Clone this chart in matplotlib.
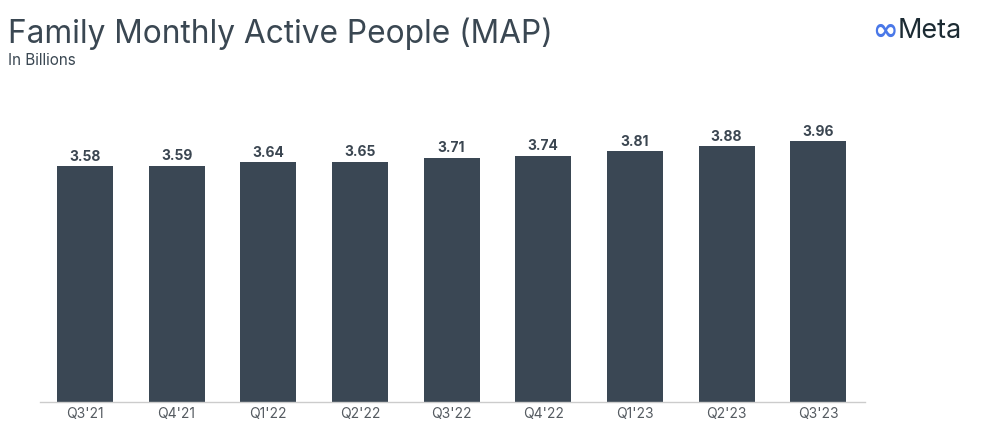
import numpy as np
import matplotlib
matplotlib.use('Agg')
import matplotlib.pyplot as plt

# quarterly family monthly active people, in billions
quarters = ["Q3'21", "Q4'21", "Q1'22", "Q2'22", "Q3'22", "Q4'22", "Q1'23", "Q2'23", "Q3'23"]
map_values = [3.58, 3.59, 3.64, 3.65, 3.71, 3.74, 3.81, 3.88, 3.96]

bar_color = '#3a4754'
text_color = '#3b4651'

plt.rcParams['font.family'] = ['Inter', 'DejaVu Sans']

fig = plt.figure(figsize=(10, 4.31), dpi=100)
ax = fig.add_axes([0.04, 0.065, 0.825, 0.703])

x = np.arange(len(quarters))
bars = ax.bar(x, map_values, width=0.61, color=bar_color)

for xi, v in zip(x, map_values):
    ax.text(xi, v + 0.05, f'{v:.2f}', ha='center', va='bottom',
            fontsize=10, fontweight='bold', color=text_color)

ax.set_xlim(-0.49, len(quarters) - 0.49)
ax.set_ylim(0, 4.6)
ax.set_xticks(x)
ax.set_xticklabels(quarters, fontsize=10, color='#555b61')
ax.tick_params(axis='x', length=0, pad=3)
ax.set_yticks([])
for side in ['top', 'right', 'left']:
    ax.spines[side].set_visible(False)
ax.spines['bottom'].set_color('#cccccc')
ax.spines['bottom'].set_linewidth(1)

# title block
fig.text(0.008, 0.9, 'Family Monthly Active People (MAP)', fontsize=22.8,
         color='#3a4752', ha='left', va='baseline')
fig.text(0.008, 0.85, 'In Billions', fontsize=11, color='#3a4752',
         ha='left', va='baseline')

# logo
fig.text(0.872, 0.928, '\u221e', fontsize=22, color='#4a78e8',
         ha='left', va='center', family='DejaVu Sans', fontweight='bold')
fig.text(0.898, 0.928, 'Meta', fontsize=19.5, color='#1c2b33',
         ha='left', va='center')

fig.savefig('out.png', dpi=100)
